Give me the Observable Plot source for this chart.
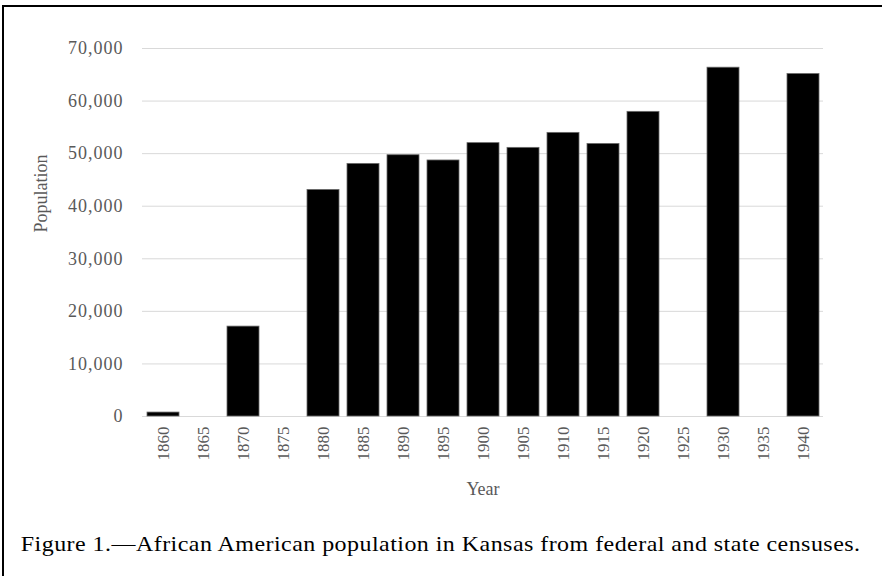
<!DOCTYPE html>
<html><head><meta charset="utf-8">
<script src="https://cdn.jsdelivr.net/npm/d3@7"></script>
<script src="https://cdn.jsdelivr.net/npm/@observablehq/plot@0.6"></script>
<style>
body{margin:0;background:#fff;}
#wrap{position:relative;width:882px;height:576px;overflow:hidden;background:#fff;}
#frame{position:absolute;left:2px;top:5px;width:900px;height:600px;border-left:2px solid #000;border-top:2px solid #000;box-sizing:border-box;}
#chart{position:absolute;left:0;top:0;}
#caption{position:absolute;left:0;width:882px;top:532px;text-align:center;font-family:"Liberation Serif",serif;font-size:21px;color:#000;white-space:nowrap;}
#captext{display:inline-block;letter-spacing:0.4px;transform-origin:center center;}
g[aria-label="y-axis tick label"] text{letter-spacing:1px;}
</style></head><body>
<div id="wrap"><div id="frame"></div><div id="chart"></div>
<div id="caption"><span id="captext">Figure 1.—African American population in Kansas from federal and state censuses.</span></div></div>
<script>
const years = ["1860","1865","1870","1875","1880","1885","1890","1895","1900","1905","1910","1915","1920","1925","1930","1935","1940"];
const population = [750, null, 17100, null, 43100, 48050, 49700, 48700, 52000, 51100, 53950, 51850, 57950, null, 66350, null, 65150];
const yTicks = [0, 10000, 20000, 30000, 40000, 50000, 60000, 70000];
const xTitle = "Year";
const yTitle = "Population";

const data = years.map((y, i) => ({year: y, value: population[i]})).filter(d => d.value != null);

const chart = Plot.plot({
  width: 882,
  height: 520,
  marginLeft: 142,
  marginRight: 59,
  marginTop: 48,
  marginBottom: 104,
  style: {fontFamily: "Liberation Serif, serif", fontSize: "17px", color: "#595959", background: "transparent"},
  x: {type: "band", domain: years, paddingInner: 0.21, paddingOuter: 0.105},
  y: {domain: [0, 70000]},
  marks: [
    Plot.gridY(yTicks, {stroke: "#d9d9d9", strokeOpacity: 1, strokeWidth: 1}),
    Plot.barY(data, {x: "year", y: "value", fill: "#000", stroke: "#6a6a6a", strokeWidth: 0.8}),
    Plot.axisY({ticks: yTicks, tickFormat: d3.format(","), tickSize: 0, tickPadding: 19, label: null, fill: "#595959", fontSize: 18}),
    Plot.axisX({tickSize: 0, tickRotate: -90, tickPadding: 10, label: null, fill: "#595959", fontSize: 17}),
    Plot.text([yTitle], {frameAnchor: "left", dx: -101, rotate: -90, fill: "#595959", fontSize: 18}),
    Plot.text([xTitle], {frameAnchor: "bottom", dy: 78, fill: "#595959", fontSize: 18})
  ]
});
document.getElementById("chart").appendChild(chart);

// stretch caption to the reference's span
const cap = document.getElementById("captext");
const w = cap.getBoundingClientRect().width;
cap.style.transform = "scaleX(" + (840 / w).toFixed(3) + ")";
</script>
</body></html>
